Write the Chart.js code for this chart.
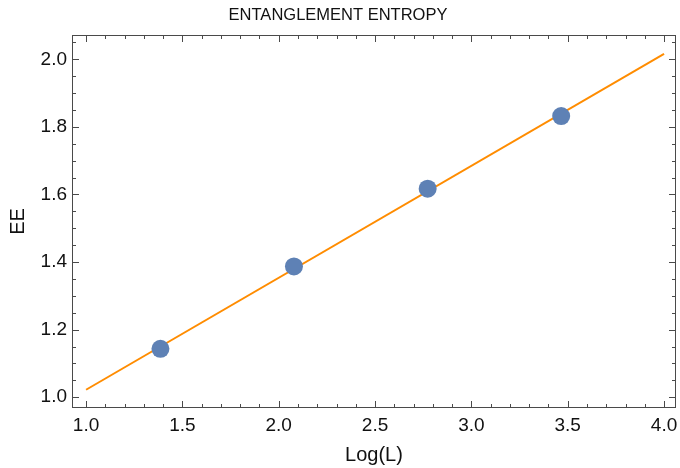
<!DOCTYPE html>
<html>
<head>
<meta charset="utf-8">
<script src="https://cdn.jsdelivr.net/npm/chart.js@4.4.1/dist/chart.umd.min.js"></script>
<style>
  html, body { margin: 0; padding: 0; background: #fff; }
  #wrap { width: 680px; height: 468px; }
</style>
</head>
<body>
<div id="wrap"><canvas id="ee-chart"></canvas></div>
<script>
// Data
var logL = [1.386, 2.079, 2.773, 3.466];
var eeValues = [1.143, 1.387, 1.617, 1.832];
var fitX = [1.0, 4.0];
var fitY = [1.022, 2.016];
var xTickValues = [1.0, 1.5, 2.0, 2.5, 3.0, 3.5, 4.0];
var yTickValues = [1.0, 1.2, 1.4, 1.6, 1.8, 2.0];

var frameColor = '#4a4a4a';
var fontFamily = "'Liberation Sans', Arial, sans-serif";

// Mathematica-style frame with inward ticks on all four sides
var frameTicks = {
    id: 'frameTicks',
    afterDraw: function(chart) {
        var ctx = chart.ctx, a = chart.chartArea;
        var xs = chart.scales.x, ys = chart.scales.y;
        ctx.save();
        ctx.strokeStyle = frameColor;
        ctx.lineWidth = 1;
        ctx.strokeRect(a.left + 0.5, a.top + 0.5, a.right - a.left - 1, a.bottom - a.top - 1);
        ctx.beginPath();
        var i, v, p, len;
        for (i = 0; i <= 40; i++) {
            v = Math.round((0.9 + i * 0.1) * 100) / 100;
            if (v < xs.min || v > xs.max) continue;
            p = Math.round(xs.getPixelForValue(v)) + 0.5;
            len = (Math.abs(v * 2 - Math.round(v * 2)) < 1e-6) ? 7 : 4;
            ctx.moveTo(p, a.bottom); ctx.lineTo(p, a.bottom - len);
            ctx.moveTo(p, a.top); ctx.lineTo(p, a.top + len);
        }
        for (i = 0; i <= 30; i++) {
            v = Math.round((0.9 + i * 0.05) * 100) / 100;
            if (v < ys.min || v > ys.max) continue;
            p = Math.round(ys.getPixelForValue(v)) + 0.5;
            len = (Math.abs(v * 5 - Math.round(v * 5)) < 1e-6) ? 7 : 4;
            ctx.moveTo(a.left, p); ctx.lineTo(a.left + len, p);
            ctx.moveTo(a.right, p); ctx.lineTo(a.right - len, p);
        }
        ctx.stroke();
        ctx.restore();
    }
};

var ctx = document.getElementById('ee-chart');

var chartData = {
    datasets: [{
        label: 'fit',
        data: fitX.map(function(x, i) { return { x: x, y: fitY[i] }; }),
        showLine: true,
        borderColor: '#ff8c00',
        borderWidth: 2,
        pointRadius: 0,
        order: 2
    }, {
        label: 'EE',
        data: logL.map(function(x, i) { return { x: x, y: eeValues[i] }; }),
        backgroundColor: '#5e81b5',
        borderWidth: 0,
        pointRadius: 9,
        order: 1
    }]
};

var chartOptions = {
    responsive: true,
    maintainAspectRatio: false,
    animation: false,
    layout: { autoPadding: false, padding: { right: 4, left: 0, bottom: 0, top: 0 } },
    plugins: {
        legend: { display: false },
        tooltip: { enabled: false },
        title: {
            display: true,
            text: 'ENTANGLEMENT ENTROPY',
            color: '#111',
            font: { family: fontFamily, size: 16.5, weight: 'normal' },
            padding: { top: 5.5, bottom: 9.7 }
        }
    },
    scales: {
        x: {
            type: 'linear',
            min: 0.927,
            max: 4.062,
            afterBuildTicks: function(axis) {
                axis.ticks = xTickValues.map(function(v) { return { value: v }; });
            },
            afterFit: function(axis) {
                axis.height = 60;
                axis.paddingLeft = 0;
                axis.paddingRight = 0;
            },
            grid: { display: false, drawTicks: false },
            border: { display: false },
            ticks: {
                padding: 6,
                color: '#111',
                font: { family: fontFamily, size: 19 },
                callback: function(v) { return v.toFixed(1); }
            },
            title: {
                display: true,
                text: 'Log(L)',
                color: '#111',
                font: { family: fontFamily, size: 20 },
                padding: { top: 2, bottom: 1 }
            }
        },
        y: {
            type: 'linear',
            min: 0.968,
            max: 2.072,
            afterBuildTicks: function(axis) {
                axis.ticks = yTickValues.map(function(v) { return { value: v }; });
            },
            afterFit: function(axis) {
                axis.width = 72;
                axis.paddingTop = 0;
                axis.paddingBottom = 0;
            },
            grid: { display: false, drawTicks: false },
            border: { display: false },
            ticks: {
                padding: 5,
                color: '#111',
                font: { family: fontFamily, size: 19 },
                callback: function(v) { return v.toFixed(1); }
            },
            title: {
                display: true,
                text: 'EE',
                color: '#111',
                font: { family: fontFamily, size: 20 },
                padding: { top: 6.5, bottom: 2 }
            }
        }
    }
};

var config = {
    type: 'scatter',
    data: chartData,
    options: chartOptions,
    plugins: [frameTicks]
};

var eeChart = new Chart(ctx, config);
</script>
</body>
</html>
